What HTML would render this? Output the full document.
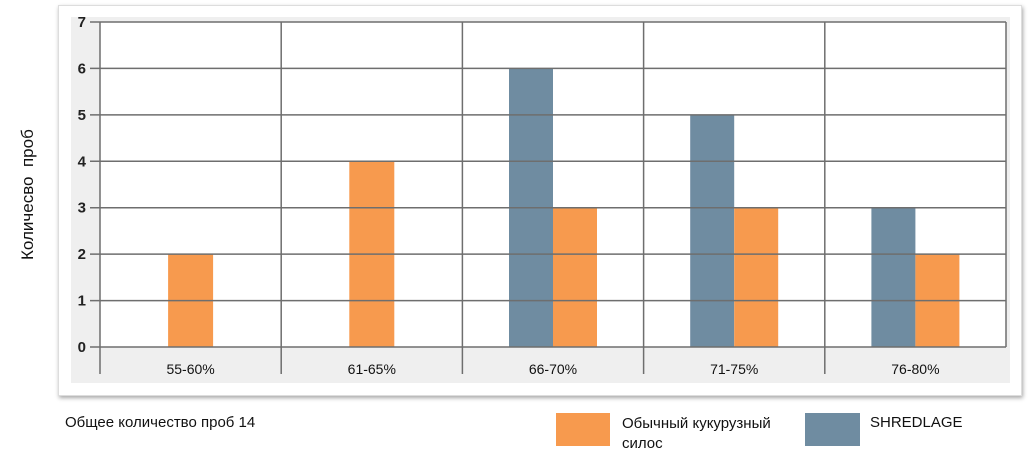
<!DOCTYPE html>
<html><head><meta charset="utf-8"><style>
body{margin:0;width:1030px;height:455px;background:#fff;font-family:"Liberation Sans",sans-serif;overflow:hidden;position:relative}
.t{position:absolute;font-size:15px;color:#111;white-space:nowrap}
</style></head><body>
<div style="position:absolute;left:58px;top:5px;width:962px;height:389px;background:#fff;box-shadow:1px 2px 4px rgba(0,0,0,0.35);border:1px solid #ddd"></div>
<svg id="c" width="1030" height="455" style="position:absolute;left:0;top:0"></svg>
<div class="t" style="left:-32px;top:190px;transform:rotate(-90deg);width:120px;text-align:center;font-size:17px">Количесво &nbsp;проб</div>
<div class="t" style="left:65px;top:414px">Общее количество проб 14</div>
<div style="position:absolute;left:556px;top:413px;width:54px;height:33px;background:#f79a4e"></div>
<div class="t" style="left:622px;top:414px;line-height:20px">Обычный кукурузный<br>силос</div>
<div style="position:absolute;left:805px;top:413px;width:55px;height:33px;background:#6f8ca1"></div>
<div class="t" style="left:870px;top:414px">SHREDLAGE</div>
<script>
const categories=["55-60%","61-65%","66-70%","71-75%","76-80%"];
const shredlage=[0,0,6,5,3];
const regular=[2,4,3,3,2];
const yTicks=[0,1,2,3,4,5,6,7];
const NS="http://www.w3.org/2000/svg";
const svg=document.getElementById('c');
const X0=100,X1=1006,Y0=347,Y7=22;
const gw=(X1-X0)/categories.length;
const y=v=>Y0-(Y0-Y7)*v/7;
const gx=i=>X0+gw*i;
function mk(t,a){const e=document.createElementNS(NS,t);for(const k in a)e.setAttribute(k,a[k]);svg.appendChild(e);return e;}
let e=mk('rect',{x:71,y:17,width:939,height:366,fill:'#efefef'});


e=mk('rect',{x:X0,y:Y7,width:X1-X0,height:Y0-Y7,fill:'#fff'});


categories.forEach((c,i)=>{
  const cx=gx(i)+gw/2,bw=44;
  if(shredlage[i]>0){
    const b=mk('rect',{x:cx-bw,y:y(shredlage[i]),width:bw,height:Y0-y(shredlage[i]),fill:'#6f8ca1'});
    
    
    const o=mk('rect',{x:cx,y:y(regular[i]),width:bw,height:Y0-y(regular[i]),fill:'#f79a4e'});
    
    
  }else{
    const o=mk('rect',{x:cx-22.5,y:y(regular[i]),width:45,height:Y0-y(regular[i]),fill:'#f79a4e'});
    
    
  }
  const t=mk('text',{x:cx,y:374,'text-anchor':'middle','font-size':14,fill:'#111','font-family':'Liberation Sans'});
  t.textContent=c;
  
  
});
yTicks.forEach(v=>{
  const l=mk('line',{x1:X0-10,x2:X1,y1:y(v),y2:y(v),stroke:'#6e6e6e','stroke-width':1.5});
  
  
  const t=mk('text',{x:86,y:y(v)+5,'text-anchor':'end','font-size':15,'font-weight':'bold',fill:'#222','font-family':'Liberation Sans'});
  t.textContent=v;
  
  
});
for(let i=0;i<=categories.length;i++){
  const l=mk('line',{x1:gx(i),x2:gx(i),y1:Y7,y2:i==categories.length?Y0:374,stroke:'#6e6e6e','stroke-width':1.5});
  
  
}
</script>
</body></html>
